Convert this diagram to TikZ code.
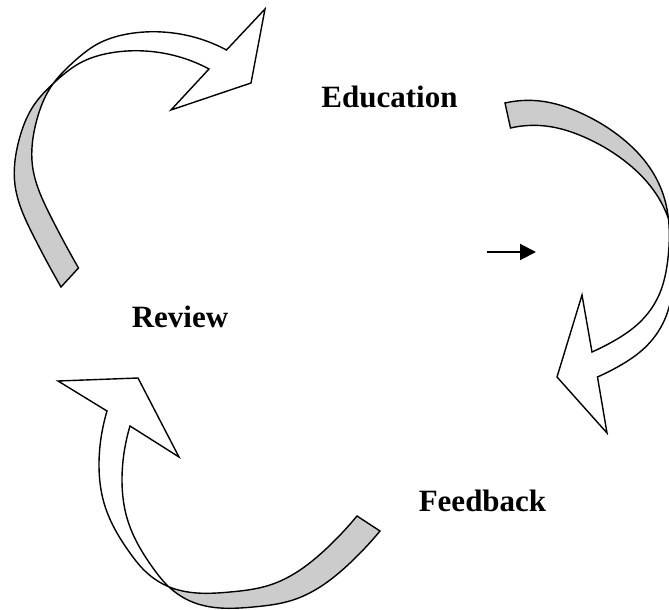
\documentclass[tikz,border=0pt]{standalone}
\usepackage{fontspec}
\setmainfont{Liberation Serif}
\usetikzlibrary{arrows.meta,hobby}
\definecolor{ribbon}{HTML}{CCCCCC}
% top-left curved arrow (Review -> Education)
\newcommand\ribA{(61,287) to[curve through={(33,235) .. (15,185) .. (19,140) .. (34,105) .. (56,81) .. (80,63) .. (110,53) .. (145,51) .. (183,58)}] (209,69)
 -- (171,110) -- (251,83) -- (265,9) -- (226.5,50)
 to[curve through={(200.5,39) .. (162.5,32) .. (127.5,34) .. (97.5,44) .. (73.5,62) .. (51.5,86) .. (36.5,121) .. (32.5,166) .. (50.5,216)}] (78.5,268) -- cycle}
% right curved arrow (Education -> Feedback)
\newcommand\ribB{(505,103) to[curve through={(540,101) .. (583,114) .. (623,139) .. (650,168) .. (664,197) .. (669,225) .. (668,258) .. (659,295) .. (639,323) .. (612,342)}] (592,352)
 -- (582,295) -- (557,377) -- (607,433) -- (597.5,377)
 to[curve through={(617.5,367) .. (644.5,348) .. (664.5,320) .. (673.5,283) .. (674.5,250) .. (669.5,222) .. (655.5,193) .. (628.5,164) .. (588.5,139) .. (545.5,126)}] (510.5,128) -- cycle}
% bottom-left curved arrow (Feedback -> Review)
\newcommand\ribC{(380,531) to[curve through={(350,563) .. (320,587) .. (293,600) .. (253,607) .. (220,608) .. (190,601) .. (165,583) .. (153,568) .. (140,548) .. (127,518) .. (122,480) .. (125,447)}] (130,426)
 -- (179,457) -- (138,378) -- (58,381) -- (107,411)
 to[curve through={(102,432) .. (99,465) .. (104,503) .. (117,533) .. (130,553) .. (142,568) .. (167,586) .. (197,593) .. (230,592) .. (270,585) .. (297,572) .. (327,548)}] (357,516) -- cycle}
\begin{document}
\begin{tikzpicture}[x=1pt,y=-1pt,
  ribbonline/.style={draw=black,line width=1.4pt,line join=miter},
  lbl/.style={font=\bfseries\fontsize{31}{37}\selectfont, anchor=base, inner sep=0pt},
  smallarrow/.style={line width=2pt,-{Triangle[length=16pt,width=16pt]}}]
\useasboundingbox (0,0) rectangle (669,610);

% arrow 1
\fill[white] \ribA;
\begin{scope}
  \clip (349,355) -- (-239,-187) -- (-510,107) -- (78,649) -- cycle;
  \fill[ribbon] \ribA;
\end{scope}
\draw[ribbonline] \ribA;

% arrow 2
\fill[white] \ribB;
\begin{scope}
  \clip (1059,133) -- (277,305) -- (191,-86) -- (973,-258) -- cycle;
  \fill[ribbon] \ribB;
\end{scope}
\draw[ribbonline] \ribB;

% arrow 3
\fill[white] \ribC;
\begin{scope}
  \clip (386,251) -- (-50,921) -- (285,1139) -- (721,469) -- cycle;
  \fill[ribbon] \ribC;
\end{scope}
\draw[ribbonline] \ribC;

% labels
\node[lbl] (edu) at (389.5,107) {Education};
\node[lbl] (rev) at (180,327) {Review};
\node[lbl] (fb) at (482.5,511) {Feedback};

% small arrow
\coordinate (sa) at (487,252);
\coordinate (sb) at (536,252);
\draw[smallarrow] (sa) -- (sb);
\end{tikzpicture}
\end{document}
